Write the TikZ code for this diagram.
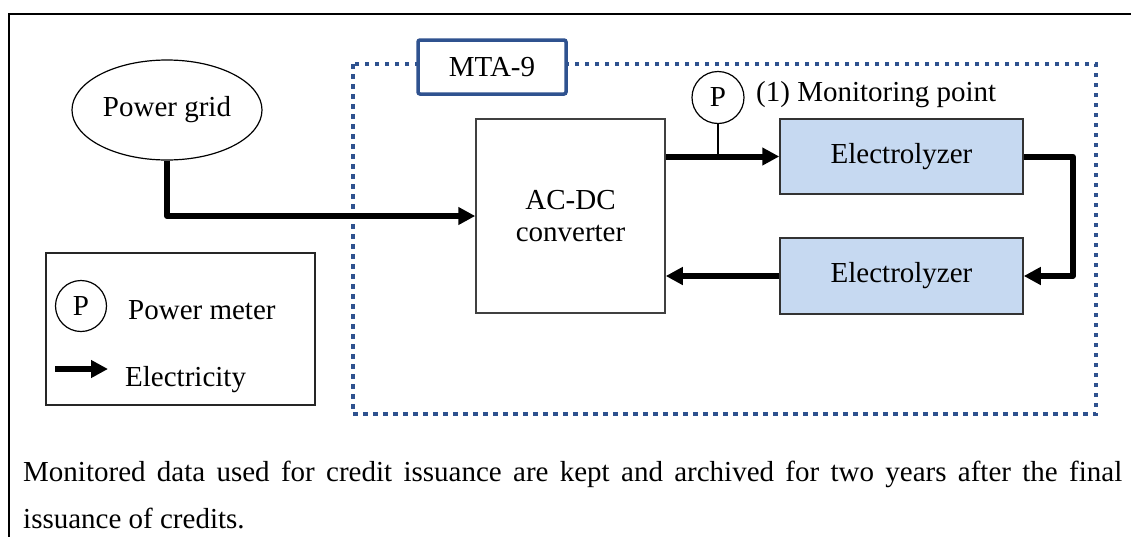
\documentclass[tikz,border=0pt]{standalone}
\usepackage{fontspec}
\setmainfont{Liberation Serif}
\usetikzlibrary{arrows.meta,shapes.geometric,calc}
\definecolor{siteblue}{HTML}{2F528F}
\definecolor{elfill}{HTML}{C6D9F1}
\definecolor{boxgray}{HTML}{404040}
\tikzset{
  elec/.style={line width=6pt,line join=round,-{Triangle[length=17pt,width=17pt]}},
  plainbox/.style={draw=boxgray,line width=1.5pt,rectangle,inner sep=0pt,align=center},
  elbox/.style={draw=black!80,line width=1.5pt,fill=elfill,rectangle,inner sep=0pt,minimum width=243pt},
  meter/.style={draw=black,line width=1.2pt,circle,inner sep=0pt,minimum size=52pt,fill=white},
  sitebox/.style={draw=siteblue,line width=4.5pt,dash pattern=on 4.5pt off 5.5pt},
  mtabox/.style={draw=siteblue,line width=3.5pt,rounded corners=2pt,fill=white,rectangle,inner sep=0pt,minimum width=148pt,minimum height=54pt},
  lbl/.style={inner sep=0pt,anchor=base west}
}
\begin{document}
\begin{tikzpicture}[x=1pt,y=-1pt,font=\fontsize{29}{33}\selectfont]
\useasboundingbox (0,0) rectangle (1131,536);
% outer frame (extends beyond the picture)
\draw[line width=2.5pt] (9,560) -- (9,14) -- (1160,14);
% site boundary
\draw[sitebox] (353,64) rectangle (1096,414);
\node[mtabox] (mta) at (492,67) {MTA-9};
% main nodes
\node[draw=black,line width=1.2pt,ellipse,minimum width=190pt,minimum height=100pt,inner sep=0pt] (grid) at (167,110) {Power grid};
\node[plainbox,minimum width=189pt,minimum height=194pt] (acdc) at (570.5,216) {AC-DC\\[-1pt]converter};
\node[elbox,minimum height=75pt] (e1) at (901.5,156.5) {Electrolyzer};
\node[elbox,minimum height=76pt] (e2) at (901.5,276) {Electrolyzer};
\node[meter] (pm) at (718,97.5) {P};
\node[lbl] (mon) at (756,101) {(1) Monitoring point};
% connectors
\draw[elec] (grid.south) |- (acdc.west);
\draw[elec] (acdc.east |- e1.west) -- (e1.west);
\coordinate (tap) at (pm.south |- e1.west);
\draw[line width=1.5pt] (pm.south) -- (tap);
\draw[elec] (e1.east) -- ++(49,0) |- (e2.east);
\draw[elec] (e2.west) -- (acdc.east |- e2.west);
% legend
\node[draw=black!85,line width=1.5pt,rectangle,minimum width=269pt,minimum height=152pt,inner sep=0pt] (legend) at (180.5,329) {};
\node[meter,minimum size=51pt] (lp) at (81,306) {P};
\node[lbl] (lpt) at (128,319) {Power meter};
\coordinate (la) at (55,369);
\coordinate (lb) at (108,369);
\draw[elec] (la) -- (lb);
\node[lbl] (let) at (125,386) {Electricity};
% bottom text
\node[lbl] (note1) at (23,481) {\makebox[1099pt][s]{Monitored data used for credit issuance are kept and archived for two years after the final}};
\node[lbl] (note2) at (23,528) {issuance of credits.};
\end{tikzpicture}
\end{document}
